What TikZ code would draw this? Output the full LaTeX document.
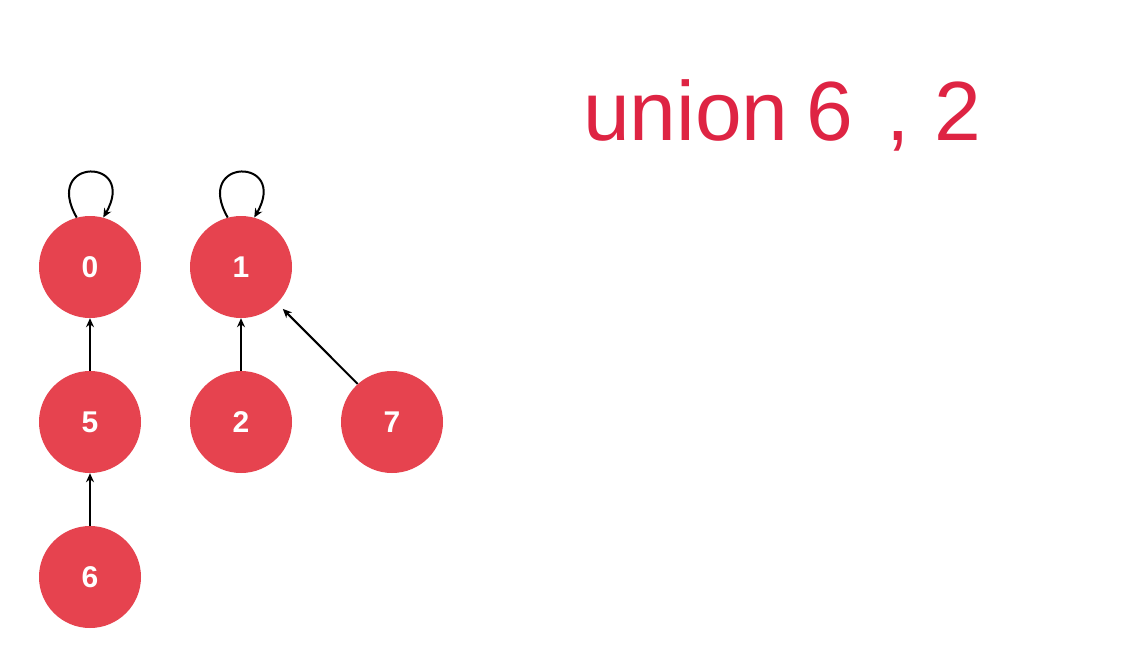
\documentclass[tikz,border=0pt]{standalone}
\usepackage{fontspec}
\setmainfont{Liberation Sans}
\usetikzlibrary{arrows.meta}
\definecolor{nodered}{HTML}{E6434F}
\definecolor{titlered}{HTML}{DE2443}
\tikzset{
  uf/.style={circle, fill=nodered, minimum size=102pt, inner sep=0pt, text=white, font=\fontsize{30}{34}\selectfont\bfseries},
  link/.style={line width=2pt, -{Stealth[length=9pt,width=8pt]}},
}
\begin{document}
\begin{tikzpicture}[x=1pt,y=-1pt]
\useasboundingbox (0,0) rectangle (1122,664);
\fill[white] (0,0) rectangle (1122,664);
\node[uf] (n0) at (90,267) {0};
\node[uf] (n1) at (241,267) {1};
\node[uf] (n5) at (90,422) {5};
\node[uf] (n2) at (241,422) {2};
\node[uf] (n7) at (392,422) {7};
\node[uf] (n6) at (90,577) {6};
\draw[link] (n5) -- (n0);
\draw[link] (n6) -- (n5);
\draw[link] (n2) -- (n1);
\draw[link, shorten >=8pt] (n7.132) -- (n1);
\draw[link] (n0.105) .. controls +(-120:70) and +(-60:70) .. (n0.75);
\draw[link] (n1.105) .. controls +(-120:70) and +(-60:70) .. (n1.75);
\node[anchor=base west, inner sep=0pt, text=titlered, font=\fontsize{84}{88}\selectfont] (title) at (583,140) {union\hspace{18pt}6\hspace{33pt},\hspace{25pt}2};
\end{tikzpicture}
\end{document}
